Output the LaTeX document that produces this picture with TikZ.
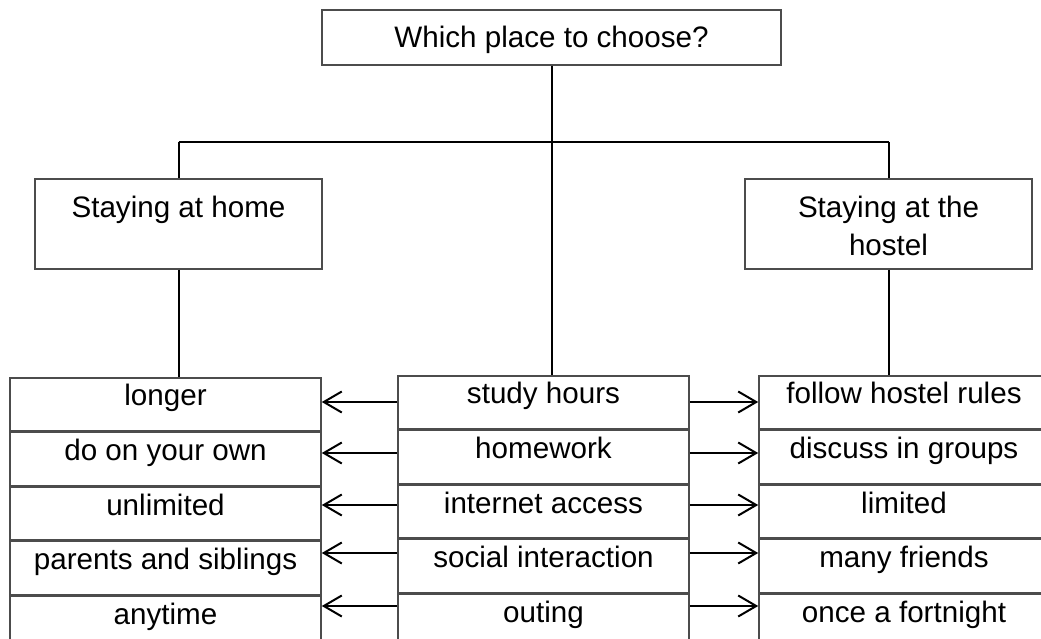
\documentclass[tikz,border=0pt]{standalone}
\usepackage{fontspec}
\setmainfont{Liberation Sans}
\usetikzlibrary{arrows.meta}
\begin{document}
\begin{tikzpicture}[x=1pt,y=-1pt,
  font=\fontsize{29.6}{38}\selectfont,
  box/.style={draw=black!70, line width=1.6pt, fill=white, inner sep=0pt, align=center},
  cellL/.style={box, minimum width=311pt, anchor=north, text height=28pt, text depth=25pt},
  cellM/.style={box, minimum width=291pt, anchor=north, text height=28pt, text depth=25pt},
  cellR/.style={box, minimum width=290pt, anchor=north, text height=28pt, text depth=25pt},
  link/.style={line width=2pt, black},
  arr/.style={line width=2pt, black, -{Straight Barb[length=18pt,width=21pt]}}]
\useasboundingbox (0,0) rectangle (1041,639);
% top
\node[box, anchor=north, minimum width=459pt, text height=38pt, text depth=17pt] (top) at (551.5,9) {Which place to choose?};
\node[box, anchor=north, minimum width=287pt, text height=39pt, text depth=51pt] (home) at (178.5,178) {Staying at home};
\node[box, anchor=north, minimum width=287pt, text height=39pt, text depth=51pt] (hostel) at (888.5,178) {\begin{tabular}[t]{@{}c@{}}Staying at the\\hostel\end{tabular}};
% left column
\node[cellL] (l1) at (165.5,377) {longer};
\node[cellL] (l2) at (l1.south) {do on your own};
\node[cellL] (l3) at (l2.south) {unlimited};
\node[cellL] (l4) at (l3.south) {parents and siblings};
\node[cellL] (l5) at (l4.south) {anytime};
% middle column
\node[cellM] (m1) at (543.5,375) {study hours};
\node[cellM] (m2) at (m1.south) {homework};
\node[cellM] (m3) at (m2.south) {internet access};
\node[cellM] (m4) at (m3.south) {social interaction};
\node[cellM] (m5) at (m4.south) {outing};
% right column
\node[cellR] (r1) at (904,375) {follow hostel rules};
\node[cellR] (r2) at (r1.south) {discuss in groups};
\node[cellR] (r3) at (r2.south) {limited};
\node[cellR] (r4) at (r3.south) {many friends};
\node[cellR] (r5) at (r4.south) {once a fortnight};
% tree connectors
\coordinate (bar) at (0,142);
\draw[link] (top.south) -- (top.south |- m1.north);
\draw[link] (home.north |- bar) -- (hostel.north |- bar);
\draw[link] (home.north |- bar) -- (home.north);
\draw[link] (hostel.north |- bar) -- (hostel.north);
\draw[link] (home.south) -- (home.south |- l1.north);
\draw[link] (hostel.south) -- (hostel.south |- r1.north);
% arrows
\coordinate (a1) at (0,402);
\coordinate (a2) at (0,453);
\coordinate (a3) at (0,505);
\coordinate (a4) at (0,553);
\coordinate (a5) at (0,606);
\foreach \i in {1,...,5}{
  \draw[arr] (m\i.west |- a\i) -- (l\i.east |- a\i);
  \draw[arr] (m\i.east |- a\i) -- (r\i.west |- a\i);
}
\end{tikzpicture}
\end{document}
